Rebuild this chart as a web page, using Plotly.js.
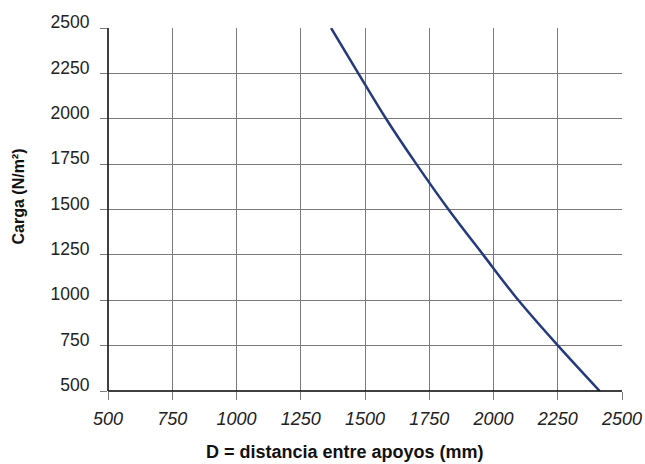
<!DOCTYPE html>
<html>
<head>
<meta charset="utf-8">
<script src="https://cdn.plot.ly/plotly-3.0.1.min.js"></script>
<style>html,body{margin:0;padding:0;background:#fff;}#chart{width:645px;height:464px;}</style>
</head>
<body>
<div id="chart"></div>
<script>
const distancia = [1368, 1474, 1582, 1700, 1825, 1960, 2097, 2251, 2413];
const carga = [2500, 2250, 2000, 1750, 1500, 1250, 1000, 750, 500];
const xTicks = [500, 750, 1000, 1250, 1500, 1750, 2000, 2250, 2500];
const yTicks = [500, 750, 1000, 1250, 1500, 1750, 2000, 2250, 2500];
const xTitle = 'D = distancia entre apoyos (mm)';
const yTitle = 'Carga (N/m²)';

const trace = {
  x: distancia, y: carga, type: 'scatter', mode: 'lines',
  line: {color: '#243a7c', width: 2.5, shape: 'spline', smoothing: 1},
  hoverinfo: 'skip', showlegend: false
};
const font = 'Liberation Sans, Arial, Helvetica, sans-serif';
const layout = {
  width: 645, height: 464,
  margin: {l: 108, r: 23, t: 28, b: 73},
  paper_bgcolor: '#fff', plot_bgcolor: '#fff',
  font: {family: font, color: '#222'},
  xaxis: {
    range: [500, 2500], tickvals: xTicks, ticktext: xTicks.map(String),
    showgrid: true, gridcolor: '#7a7a7a', gridwidth: 1,
    zeroline: false, showline: false,
    ticks: 'outside', ticklen: 8, tickcolor: '#7a7a7a', tickwidth: 1,
    tickfont: {family: font, size: 18, color: '#222', style: 'italic'},
    ticklabelstandoff: 3
  },
  yaxis: {
    range: [500, 2500], tickvals: yTicks, ticktext: yTicks.map(String),
    showgrid: true, gridcolor: '#7a7a7a', gridwidth: 1,
    zeroline: false, showline: false,
    ticks: 'outside', ticklen: 7, tickcolor: '#7a7a7a', tickwidth: 1,
    tickfont: {family: font, size: 17.5, color: '#222'},
    ticklabelshift: -6, ticklabelstandoff: 7
  },
  annotations: [
    {text: '<b>' + xTitle + '</b>', xref: 'paper', yref: 'paper', x: 0.461, y: -0.168,
     xanchor: 'center', yanchor: 'middle', showarrow: false,
     font: {family: font, size: 18, color: '#111'}},
    {text: '<b>' + yTitle + '</b>', xref: 'paper', yref: 'paper', x: -0.175, y: 0.536,
     xanchor: 'center', yanchor: 'middle', showarrow: false, textangle: -90,
     font: {family: font, size: 16, color: '#111'}}
  ],
  shapes: [
    {type: 'line', xref: 'paper', yref: 'paper', x0: 0, x1: 0, y0: 0, y1: 1, line: {color: '#000', width: 1.5}},
    {type: 'line', xref: 'paper', yref: 'paper', x0: 0, x1: 1, y0: 0, y1: 0, line: {color: '#000', width: 1.5}}
  ]
};
Plotly.newPlot('chart', [trace], layout, {displayModeBar: false, staticPlot: true});
</script>
</body>
</html>
